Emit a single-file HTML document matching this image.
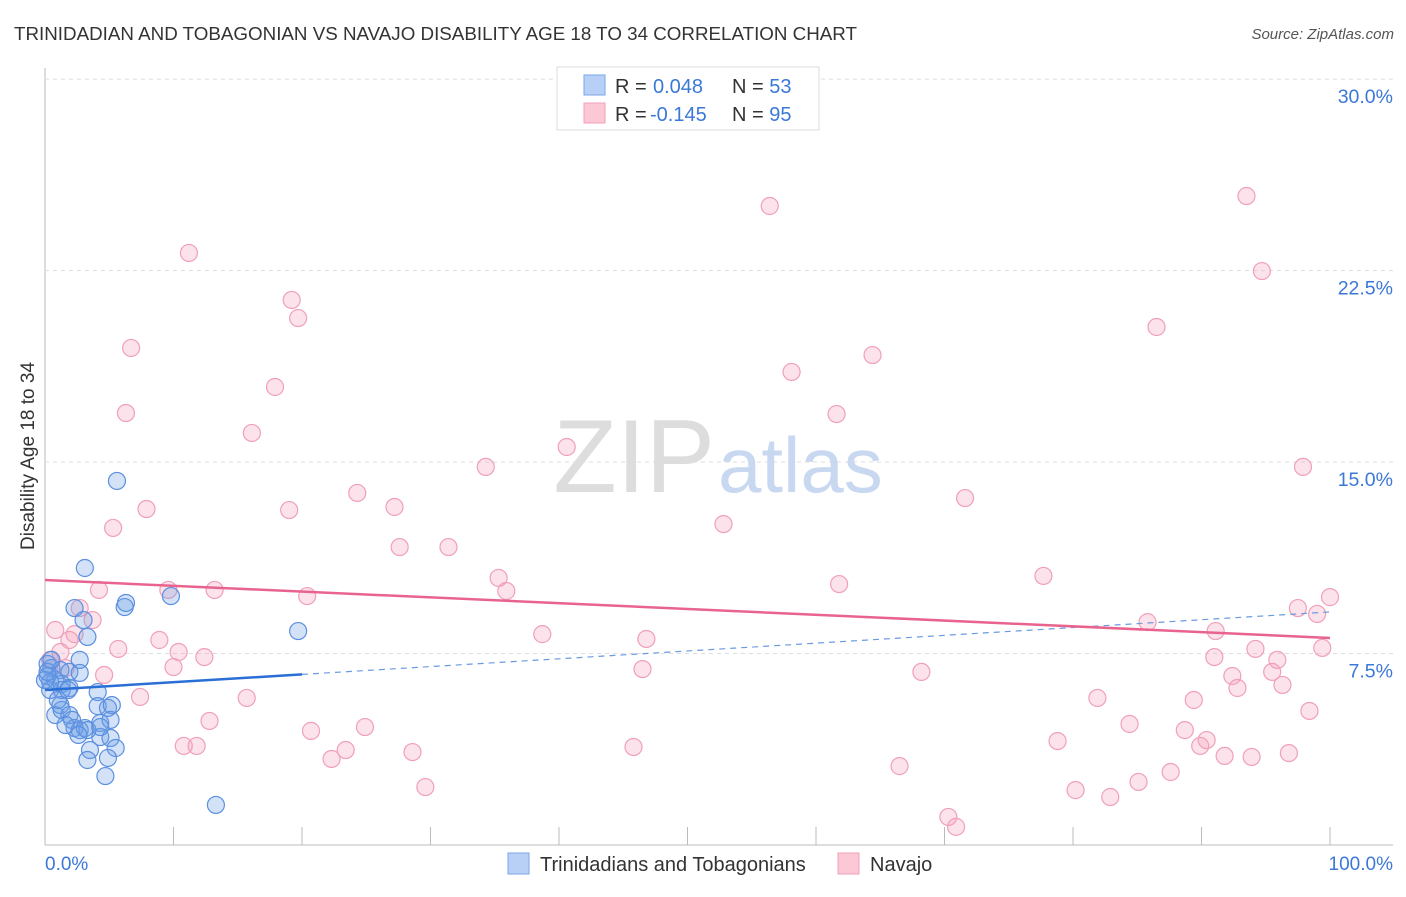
<!DOCTYPE html>
<html><head><meta charset="utf-8"><style>
body{margin:0;background:#fff;font-family:"Liberation Sans",sans-serif;}
svg text{font-family:"Liberation Sans",sans-serif;}
</style></head><body>
<svg id="chart" width="1406" height="892" xmlns="http://www.w3.org/2000/svg">
<text x="14" y="40" font-size="18" fill="#333" textLength="843" lengthAdjust="spacingAndGlyphs">TRINIDADIAN AND TOBAGONIAN VS NAVAJO DISABILITY AGE 18 TO 34 CORRELATION CHART</text>
<text x="1394" y="39" font-size="15" fill="#555" font-style="italic" text-anchor="end">Source: ZipAtlas.com</text>
<text x="34" y="456" font-size="19" fill="#333" text-anchor="middle" transform="rotate(-90 34 456)">Disability Age 18 to 34</text>
<g id="grid"></g>
<text x="715" y="492" font-size="104" fill="#ddd" text-anchor="end" font-family="Liberation Serif">ZIP</text>
<text x="718" y="492" font-size="78" fill="#c8d8f0">atlas</text>
<g id="pts"></g>
<g id="lines"></g>
<g>
<rect x="557" y="67" width="262" height="63" fill="#fff" stroke="#ddd"/>
<rect x="584" y="75" width="21" height="20" fill="#b8d0f5" stroke="#7aa6e8"/>
<rect x="584" y="103" width="21" height="20" fill="#fcc8d6" stroke="#f0a0b8"/>
<text x="615" y="93" font-size="20" fill="#333">R = <tspan x="653" fill="#3b78d8">0.048</tspan></text>
<text x="732" y="93" font-size="20" fill="#333">N = <tspan fill="#3b78d8">53</tspan></text>
<text x="615" y="121" font-size="20" fill="#333">R = <tspan x="650" fill="#3b78d8">-0.145</tspan></text>
<text x="732" y="121" font-size="20" fill="#333">N = <tspan fill="#3b78d8">95</tspan></text>
</g>
<g>
<rect x="508" y="853" width="21" height="21" fill="#b8d0f5" stroke="#7aa6e8"/>
<text x="540" y="871" font-size="20" fill="#333">Trinidadians and Tobagonians</text>
<rect x="838" y="853" width="21" height="21" fill="#fcc8d6" stroke="#f0a0b8"/>
<text x="870" y="871" font-size="20" fill="#333">Navajo</text>
</g>
</svg>
<script>
const yTicks=[7.5,15,22.5,30];
const yTickLabels=["7.5%","15.0%","22.5%","30.0%"];
const blueX=[5.6,3.1,2.3,6.2,6.3,9.8,3.0,3.3,19.7,0.2,0.5,1.2,1.9,0.2,0.8,1.3,1.9,2.7,2.7,4.1,0.4,0.8,1.2,1.3,1.9,2.1,2.3,2.7,3.1,4.1,4.3,4.9,5.1,5.2,4.3,5.1,3.5,5.5,3.3,4.9,4.7,13.3,1.3,0.4,1.6,1.0,3.3,4.3,0.0,0.2,0.5,1.8,2.6];
const blueY=[14.26,10.85,9.28,9.32,9.48,9.75,8.81,8.15,8.38,7.09,6.93,6.85,6.78,6.62,6.46,6.31,6.15,7.25,6.74,5.99,6.07,5.09,5.48,5.29,5.09,4.90,4.58,4.50,4.58,5.44,4.78,5.37,4.90,5.48,4.23,4.19,3.72,3.80,3.33,3.41,2.70,1.57,6.07,6.38,4.70,5.68,4.50,4.62,6.46,6.78,7.25,6.07,4.31];
const pinkX=[11.2,19.2,19.7,6.7,6.3,17.9,16.1,7.9,5.3,19.0,24.3,27.2,27.6,31.4,34.3,40.6,35.3,35.9,38.7,46.8,46.5,52.8,56.4,58.1,61.6,61.8,64.4,68.2,71.6,77.7,86.5,93.5,94.7,97.9,85.8,91.1,81.9,84.4,78.8,80.2,82.9,85.1,87.6,88.7,89.4,89.9,90.4,91.0,91.8,92.4,92.8,94.2,95.5,95.9,96.3,93.9,96.8,97.5,99.0,100,99.4,98.4,66.5,70.3,70.9,45.8,28.6,29.6,24.9,23.4,22.3,20.7,15.7,12.8,11.8,10.8,20.4,13.2,12.4,10.4,10.0,8.9,9.6,7.4,5.7,4.6,4.2,3.7,2.7,1.9,2.3,1.2,0.8,0.4,1.6];
const pinkY=[23.19,21.35,20.64,19.47,16.92,17.94,16.14,13.16,12.42,13.12,13.79,13.24,11.67,11.67,14.81,15.59,10.46,9.95,8.26,8.07,6.89,12.57,25.03,18.53,16.88,10.22,19.19,6.78,13.59,10.54,20.29,25.42,22.48,14.81,8.73,8.38,5.76,4.74,4.07,2.15,1.88,2.47,2.86,4.50,5.68,3.88,4.11,7.36,3.49,6.62,6.15,7.68,6.78,7.25,6.27,3.45,3.60,9.28,9.05,9.71,7.72,5.25,3.09,1.10,0.71,3.84,3.64,2.27,4.62,3.72,3.37,4.47,5.76,4.86,3.88,3.88,9.75,9.99,7.36,7.56,6.97,8.03,9.99,5.80,7.68,6.66,9.99,8.81,9.28,8.03,8.26,7.56,8.42,7.25,6.93];
const blueTrend=[6.07,9.13];
const pinkTrend=[10.38,8.11];
const NS='http://www.w3.org/2000/svg';
const X0=45,X1=1330,Y0=845,PXPER=25.53;
function sx(v){return X0+(X1-X0)*v/100;}
function sy(v){return Y0-v*PXPER;}
function mk(tag,attrs,parent){const e=document.createElementNS(NS,tag);for(const k in attrs)e.setAttribute(k,attrs[k]);parent.appendChild(e);return e;}
const grid=document.getElementById('grid');
let ax=mk('line',{x1:45,y1:68,x2:45,y2:845,stroke:'#bbb'},grid);


let bx=mk('line',{x1:45,y1:845,x2:1393,y2:845,stroke:'#bbb'},grid);


for(let i=0;i<=10;i++){let t=mk('line',{x1:sx(i*10),y1:827,x2:sx(i*10),y2:845,stroke:'#bbb'},grid);

}
yTicks.forEach((v,i)=>{let g=mk('line',{x1:45,y1:sy(v),x2:1393,y2:sy(v),stroke:'#ddd','stroke-dasharray':'4,4'},grid);


let t=mk('text',{x:1393,y:sy(v)+24,'font-size':19.5,fill:'#3b78d8','text-anchor':'end'},grid);t.textContent=yTickLabels[i];

});
let l0=mk('text',{x:45,y:870,'font-size':19,fill:'#3b78d8'},grid);l0.textContent='0.0%';


let l1=mk('text',{x:1393,y:870,'font-size':19,fill:'#3b78d8','text-anchor':'end'},grid);l1.textContent='100.0%';


const pts=document.getElementById('pts');
pinkX.forEach((x,i)=>{let c=mk('circle',{cx:sx(x),cy:sy(pinkY[i]),r:8.5,fill:'rgba(244,160,185,0.3)',stroke:'#f0a0b8','stroke-width':1.2},pts);

});
blueX.forEach((x,i)=>{let c=mk('circle',{cx:sx(x),cy:sy(blueY[i]),r:8.5,fill:'rgba(110,160,230,0.3)',stroke:'#5b8fe0','stroke-width':1.2},pts);

});
const lines=document.getElementById('lines');
function by(x){return blueTrend[0]+(blueTrend[1]-blueTrend[0])*x/100;}
let bd=mk('line',{x1:sx(20),y1:sy(by(20)),x2:sx(100),y2:sy(by(100)),stroke:'#6a9ae0','stroke-width':1.2,'stroke-dasharray':'6,5'},lines);


let bs=mk('line',{x1:sx(0),y1:sy(by(0)),x2:sx(20),y2:sy(by(20)),stroke:'#2a6fd6','stroke-width':2.5},lines);


let ps=mk('line',{x1:sx(0),y1:sy(pinkTrend[0]),x2:sx(100),y2:sy(pinkTrend[1]),stroke:'#e8648e','stroke-width':2.5},lines);


</script>
</body></html>
